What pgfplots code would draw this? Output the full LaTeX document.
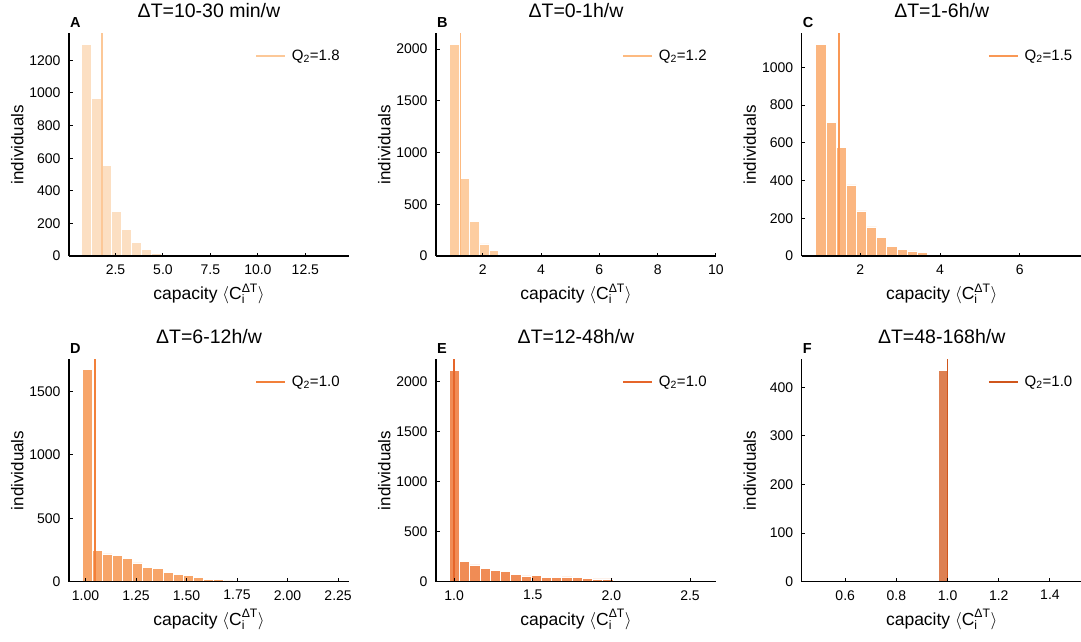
\documentclass[border=0pt]{standalone}
\usepackage{amsmath}
\usepackage{fontspec}
\setmainfont{Liberation Sans}
\usepackage{pgfplots}
\pgfplotsset{compat=1.18}

\definecolor{barA}{RGB}{252,223,194}\definecolor{lineA}{RGB}{252,200,152}
\definecolor{barB}{RGB}{253,205,160}\definecolor{lineB}{RGB}{253,186,128}
\definecolor{barC}{RGB}{251,182,128}\definecolor{lineC}{RGB}{249,152,85}
\definecolor{barD}{RGB}{247,165,105}\definecolor{lineD}{RGB}{242,128,58}
\definecolor{barE}{RGB}{240,140,85}\definecolor{lineE}{RGB}{230,102,42}
\definecolor{barF}{RGB}{221,128,82}\definecolor{lineF}{RGB}{208,86,28}

\pgfplotsset{
  panel/.style={
    scale only axis, width=280pt, height=222.5pt,
    axis lines=left, axis line style={-, line width=1.2pt, black},
    tick align=inside, major tick length=3.5pt,
    tick style={line width=1pt, black},
    ymin=0, axis on top, clip=false,
    tick label style={font=\fontsize{14}{16}\selectfont},
    /pgf/number format/assume math mode=true,
    /pgf/number format/1000 sep={},
    xticklabel style={yshift=-5pt},
    yticklabel style={xshift=-5pt},
    xlabel={capacity $\langle\text{C}_{\text{i}}^{\text{ΔT}}\rangle$},
    ylabel={individuals},
    xlabel style={font=\fontsize{17.5}{19}\selectfont, at={(axis description cs:0.5,-0.196)}, anchor=base},
    ylabel style={font=\fontsize{17}{19}\selectfont, at={(axis description cs:-0.185,0.5)}, anchor=center},
    title style={font=\fontsize{19.5}{22}\selectfont, at={(axis description cs:0.5,1)}, anchor=base, yshift=10pt},
    legend style={draw=none, fill=none, at={(0.985,0.945)}, anchor=north east,
      font=\fontsize{15}{17}\selectfont, legend cell align=left,
      /tikz/every odd column/.append style={column sep=4pt}},
    legend image code/.code={\draw[#1] (0pt,0pt) -- (29pt,0pt);},
  },
}
\newcommand{\plabel}[1]{\node[font=\bfseries\fontsize{14.5}{16}\selectfont, anchor=south west, inner sep=0pt, xshift=1pt, yshift=6pt] at (rel axis cs:0,1) {#1};}

\begin{document}
\begin{tikzpicture}
\useasboundingbox (0pt,0pt) rectangle (1081pt,641pt);

% ---------- A
\begin{axis}[panel, at={(69pt,385pt)}, anchor=south west,
  title={ΔT=10-30 min/w},
  xmin=0.05, xmax=14.8, ymax=1365,
  xtick={2.5,5,7.5,10,12.5}, ytick={0,200,...,1200},
  xticklabel style={/pgf/number format/.cd, fixed, fixed zerofill, precision=1}]
\addplot[ybar interval, fill=barA, draw=white, line width=0.8pt, forget plot] coordinates {(0.700,1296) (1.228,966) (1.756,553) (2.284,274) (2.812,162) (3.340,84) (3.868,39) (4.396,18) (4.924,8) (5.452,4) (5.980,2) (6.508,0)};
\addplot[lineA, line width=1.8pt] coordinates {(1.77,0) (1.77,1365)};
\addlegendentry{Q\textsubscript{2}=1.8}
\plabel{A}
\end{axis}

% ---------- B
\begin{axis}[panel, at={(436pt,385pt)}, anchor=south west,
  title={ΔT=0-1h/w},
  xmin=0.4, xmax=10, ymax=2150,
  xtick={2,4,6,8,10}, ytick={0,500,...,2000}]
\addplot[ybar interval, fill=barB, draw=white, line width=0.8pt, forget plot] coordinates {(0.846,2040) (1.188,751) (1.530,338) (1.872,116) (2.214,51) (2.556,19) (2.898,7) (3.240,3) (3.582,0)};
\addplot[lineB, line width=1.8pt] coordinates {(1.24,0) (1.24,2150)};
\addlegendentry{Q\textsubscript{2}=1.2}
\plabel{B}
\end{axis}

% ---------- C
\begin{axis}[panel, at={(801.7pt,385pt)}, anchor=south west,
  title={ΔT=1-6h/w},
  xmin=0.535, xmax=7.55, ymax=1180,
  xtick={2,4,6}, ytick={0,200,...,1000}]
\addplot[ybar interval, fill=barC, draw=white, line width=0.8pt, forget plot] coordinates {(0.887,1120) (1.1415,710) (1.396,575) (1.6505,377) (1.905,239) (2.1595,154) (2.414,99) (2.6685,51) (2.923,37) (3.1775,27) (3.432,20) (3.6865,5) (3.941,2) (4.1955,0)};
\addplot[lineC, line width=1.8pt] coordinates {(1.47,0) (1.47,1180)};
\addlegendentry{Q\textsubscript{2}=1.5}
\plabel{C}
\end{axis}

% ---------- D
\begin{axis}[panel, at={(69pt,59.3pt)}, anchor=south west,
  title={ΔT=6-12h/w},
  xmin=0.918, xmax=2.304, ymax=1755,
  xtick={1,1.25,1.5,1.75,2,2.25}, ytick={0,500,1000,1500},
  xticklabel style={/pgf/number format/.cd, fixed, fixed zerofill, precision=2}]
\addplot[ybar interval, fill=barD, draw=white, line width=0.8pt, forget plot] coordinates {(0.983,1672) (1.033,245) (1.083,219) (1.133,205) (1.183,185) (1.233,148) (1.283,111) (1.333,103) (1.383,74) (1.433,55) (1.483,47) (1.533,37) (1.583,16) (1.633,20) (1.683,6) (1.733,12) (1.783,0)};
\addplot[lineD, line width=1.8pt] coordinates {(1.046,0) (1.046,1755)};
\addlegendentry{Q\textsubscript{2}=1.0}
\plabel{D}
\end{axis}

% ---------- E
\begin{axis}[panel, at={(436pt,59.3pt)}, anchor=south west,
  title={ΔT=12-48h/w},
  xmin=0.885, xmax=2.665, ymax=2220,
  xtick={1,1.5,2,2.5}, ytick={0,500,...,2000},
  xticklabel style={/pgf/number format/.cd, fixed, fixed zerofill, precision=1}]
\addplot[ybar interval, fill=barE, draw=white, line width=0.8pt, forget plot] coordinates {(0.970,2110) (1.035,198) (1.100,167) (1.165,135) (1.230,110) (1.295,105) (1.360,75) (1.425,57) (1.490,63) (1.555,40) (1.620,38) (1.685,47) (1.750,38) (1.815,33) (1.880,27) (1.945,27) (2.010,0)};
\addplot[lineE, line width=1.8pt] coordinates {(1.0,0) (1.0,2220)};
\addlegendentry{Q\textsubscript{2}=1.0}
\plabel{E}
\end{axis}

% ---------- F
\begin{axis}[panel, at={(801.7pt,59.3pt)}, anchor=south west,
  title={ΔT=48-168h/w},
  xmin=0.43, xmax=1.524, ymax=458,
  xtick={0.6,0.8,1.0,1.2,1.4}, ytick={0,100,...,400},
  xticklabel style={/pgf/number format/.cd, fixed, fixed zerofill, precision=1}]
\addplot[ybar interval, fill=barF, draw=white, line width=0.8pt, forget plot] coordinates {(0.963,434) (1.0,0)};
\addplot[lineF, line width=1.8pt] coordinates {(1.0,0) (1.0,458)};
\addlegendentry{Q\textsubscript{2}=1.0}
\plabel{F}
\end{axis}
\end{tikzpicture}
\end{document}
